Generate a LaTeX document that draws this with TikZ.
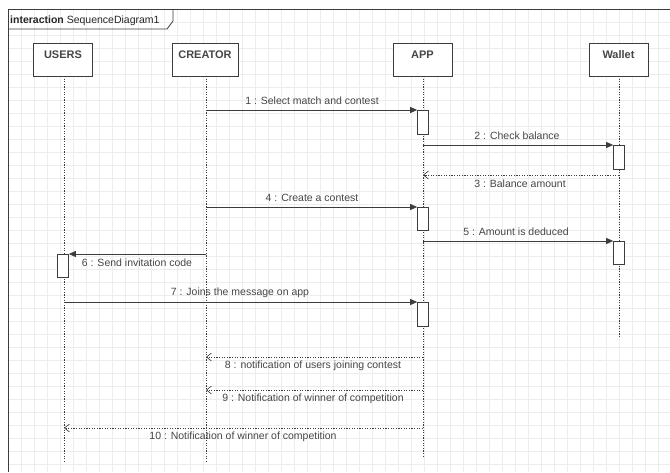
\documentclass[tikz,border=0pt]{standalone}
\usepackage{fontspec}
\setmainfont{Liberation Sans}
\usetikzlibrary{arrows.meta}
\definecolor{txt}{RGB}{70,70,70}
\definecolor{ln}{RGB}{60,60,60}
\tikzset{
  lifebox/.style={draw=ln, line width=0.8pt, fill=white, minimum width=59pt, minimum height=33pt, inner sep=0pt, text=txt, font=\fontsize{11}{12}\selectfont\bfseries},
  lifeline/.style={draw=ln, line width=0.6pt, dash pattern=on 1.2pt off 1.4pt},
  actbox/.style={draw=ln, line width=0.7pt, fill=white, minimum width=11pt, inner sep=0pt},
  msg/.style={draw=ln, line width=0.8pt, -{Triangle[length=7pt,width=6pt]}},
  ret/.style={draw=ln, line width=0.6pt, dash pattern=on 1.2pt off 1.4pt, -{Straight Barb[length=5pt,width=8pt]}},
  lbl/.style={text=txt, font=\fontsize{10.5}{12}\selectfont, inner sep=0pt}
}
\begin{document}
\begin{tikzpicture}[x=1pt,y=-1pt]
\useasboundingbox (0,0) rectangle (670,472);
\fill[white] (0,0) rectangle (670,472);
% grid
\begin{scope}
\clip (8,9) rectangle (670,472);
\foreach \i in {0,...,51} {\draw[black!7, line width=0.5pt] (8+13*\i,9) -- (8+13*\i,472);}
\foreach \j in {0,...,36} {\draw[black!7, line width=0.5pt] (8,9+13*\j) -- (670,9+13*\j);}
\end{scope}
% frame
\draw[ln, line width=0.8pt] (8,472) -- (8,9) -- (670,9);
\draw[ln, line width=0.8pt] (8,29) -- (167,29) -- (173,21) -- (173,9);
\node[lbl, anchor=base west, text=black!85] (title) at (10,23) {\textbf{interaction} SequenceDiagram1};
% lifelines
\coordinate (uEnd) at (64,463);
\coordinate (cEnd) at (206,463);
\coordinate (aEnd) at (423,458);
\coordinate (wEnd) at (619,338);
\node[lifebox, anchor=north] (users) at (63,43) {\raisebox{11pt}{USERS}};
\node[lifebox, anchor=north, minimum width=66pt] (creator) at (205,43) {\raisebox{11pt}{CREATOR}};
\node[lifebox, anchor=north] (app) at (422.5,43) {\raisebox{11pt}{APP}};
\node[lifebox, anchor=north] (wallet) at (618.5,43) {\raisebox{11pt}{Wallet}};
\draw[lifeline] (64,76) -- (uEnd);
\draw[lifeline] (206,76) -- (cEnd);
\draw[lifeline] (423,76) -- (aEnd);
\draw[lifeline] (619,76) -- (wEnd);
% activations
\node[actbox, anchor=north, minimum height=24pt] (a1) at (423,110) {};
\node[actbox, anchor=north, minimum height=24pt] (w1) at (619,145) {};
\node[actbox, anchor=north, minimum height=23pt] (a2) at (423,207) {};
\node[actbox, anchor=north, minimum height=23pt] (w2) at (619,241) {};
\node[actbox, anchor=north, minimum height=23pt] (u1) at (63,254) {};
\node[actbox, anchor=north, minimum height=24pt] (a3) at (423,302) {};
% coordinates for message ends
\coordinate (c1) at (206,110);
\coordinate (c4) at (206,207);
\coordinate (c6) at (206,254);
\coordinate (u7) at (64,302);
\coordinate (a2s) at (423,145);
\coordinate (w3) at (619,175);
\coordinate (a3e) at (423,175);
\coordinate (a5s) at (423,241);
\coordinate (a8) at (423,357);
\coordinate (c8) at (206,357);
\coordinate (a9) at (423,390);
\coordinate (c9) at (206,390);
\coordinate (a10) at (423,428);
\coordinate (u10) at (64,428);
% messages
\draw[msg] (c1) -- (a1.north west);
\node[lbl] (m1) at (312,101) {1 : Select match and contest};
\draw[msg] (a2s) -- (w1.north west);
\node[lbl] (m2) at (517,136) {2 : Check balance};
\draw[ret] (w3) -- (a3e);
\node[lbl] (m3) at (520,184) {3 : Balance amount};
\draw[msg] (c4) -- (a2.north west);
\node[lbl] (m4) at (312,198) {4 : Create a contest};
\draw[msg] (a5s) -- (w2.north west);
\node[lbl] (m5) at (516,232) {5 : Amount is deduced};
\draw[msg] (c6) -- (u1.north east);
\node[lbl] (m6) at (137,263) {6 : Send invitation code};
\draw[msg] (u7) -- (a3.north west);
\node[lbl] (m7) at (240,293) {7 : Joins the message on app};
\draw[ret] (a8) -- (c8);
\node[lbl] (m8) at (313,366) {8 : notification of users joining contest};
\draw[ret] (a9) -- (c9);
\node[lbl] (m9) at (313,399) {9 : Notification of winner of competition};
\draw[ret] (a10) -- (u10);
\node[lbl] (m10) at (243,437) {10 : Notification of winner of competition};
\end{tikzpicture}
\end{document}
